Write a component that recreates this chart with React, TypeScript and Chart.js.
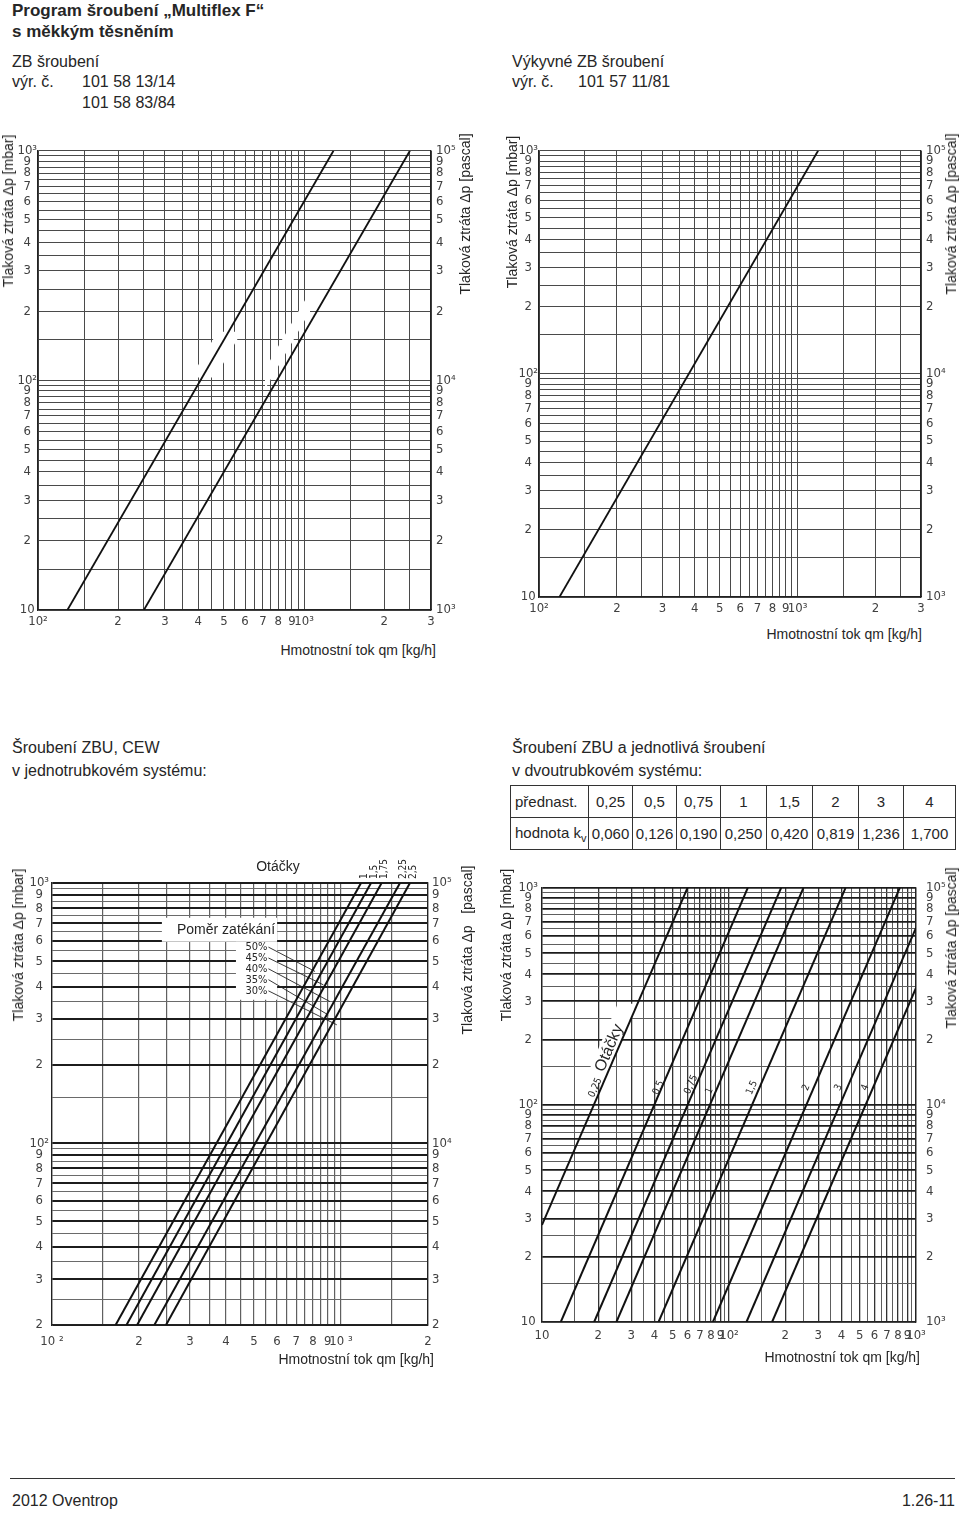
import React, { useEffect, useRef } from "react";
import { Chart, registerables } from "chart.js";

Chart.register(...registerables);

const SANS = "'Liberation Sans Narrow', 'Liberation Sans', Arial, sans-serif";
const TICK = "'DejaVu Sans Condensed', 'DejaVu Sans', sans-serif";
const TEXT = "#262626";

// ---------------- tick labels ----------------
const dropTicks10 = [10, 20, 30, 40, 50, 60, 70, 80, 90, 100, 200, 300, 400, 500, 600, 700, 800, 900, 1000];
const dropLabels10 = ["10", "2", "3", "4", "5", "6", "7", "8", "9", "10²", "2", "3", "4", "5", "6", "7", "8", "9", "10³"];
const pascalTicks1k = [1000, 2000, 3000, 4000, 5000, 6000, 7000, 8000, 9000, 10000, 20000, 30000, 40000, 50000, 60000, 70000, 80000, 90000, 100000];
const pascalLabels1k = ["10³", "2", "3", "4", "5", "6", "7", "8", "9", "10⁴", "2", "3", "4", "5", "6", "7", "8", "9", "10⁵"];
const flowTicksTop = [100, 200, 300, 400, 500, 600, 700, 800, 900, 1000, 2000, 3000];
const flowLabelsTop = ["10²", "2", "3", "4", "5", "6", "7", "8", "9", "10³", "2", "3"];
const dropTicks20 = [20, 30, 40, 50, 60, 70, 80, 90, 100, 200, 300, 400, 500, 600, 700, 800, 900, 1000];
const dropLabels20 = ["2", "3", "4", "5", "6", "7", "8", "9", "10²", "2", "3", "4", "5", "6", "7", "8", "9", "10³"];
const pascalTicks2k = [2000, 3000, 4000, 5000, 6000, 7000, 8000, 9000, 10000, 20000, 30000, 40000, 50000, 60000, 70000, 80000, 90000, 100000];
const pascalLabels2k = ["2", "3", "4", "5", "6", "7", "8", "9", "10⁴", "2", "3", "4", "5", "6", "7", "8", "9", "10⁵"];
const flowTicksCew = [100, 200, 300, 400, 500, 600, 700, 800, 900, 1000, 2000];
const flowLabelsCew = ["10 ²", "2", "3", "4", "5", "6", "7", "8", "9", "10 ³", "2"];
const flowTicksTwo = [10, 20, 30, 40, 50, 60, 70, 80, 90, 100, 200, 300, 400, 500, 600, 700, 800, 900, 1000];
const flowLabelsTwo = ["10", "2", "3", "4", "5", "6", "7", "8", "9", "10²", "2", "3", "4", "5", "6", "7", "8", "9", "10³"];
const gridSteps = [1, 1.5, 2, 2.5, 3, 3.5, 4, 4.5, 5, 5.5, 6, 6.5, 7, 7.5, 8, 8.5, 9, 9.5];

// ---------------- chart 1: ZB šroubení ----------------
const zbFlowStart = [129, 250];
const zbDropStart = [10, 10];
const zbFlowEnd = [1290, 2500];
const zbDropEnd = [1000, 1000];
const zbBandAFlow = [473, 583, 463, 376];
const zbBandADrop = [163, 163, 103, 103];
const zbBandBFlow = [713, 1053, 1053, 713];
const zbBandBDrop = [111.8, 244, 200, 91.6];

// ---------------- chart 2: Výkyvné ZB šroubení ----------------
const vzbFlowStart = [120];
const vzbDropStart = [10];
const vzbFlowEnd = [1200];
const vzbDropEnd = [1000];

// ---------------- chart 3: ZBU, CEW (one-pipe) ----------------
const cewTurns = ["1", "1,5", "1,75", "2,25", "2,5"];
const cewFlowStart = [166, 181, 197, 226, 248];
const cewDropStart = [20, 20, 20, 20, 20];
const cewFlowEnd = [1173, 1270, 1382, 1600, 1732];
const cewDropEnd = [1000, 1000, 1000, 1000, 1000];
const leakRatios = ["50%", "45%", "40%", "35%", "30%"];
const leakLeaderStartFlow = [561, 561, 561, 561, 561];
const leakLeaderStartDrop = [567, 515, 468, 425, 385];
const leakLeaderEndFlow = [813, 869, 916, 904, 967];
const leakLeaderEndDrop = [457, 406, 350, 311, 285];
const pomerTextFlow = 400;
const pomerTextDrop = 661;
const pomerBoxFlow = [240, 601];
const pomerBoxDrop = [735, 595];
const ratioBoxFlow = [433, 601];
const ratioBoxDrop = [595, 356];

// ---------------- chart 4: ZBU two-pipe ----------------
const presetTurns = ["0,25", "0,5", "0,75", "1", "1,5", "2", "3", "4"];
const kvTexts = ["0,060", "0,126", "0,190", "0,250", "0,420", "0,819", "1,236", "1,700"];
const twoFlowStart = [10, 12.6, 19, 25, 42, 82, 124, 170];
const twoDropStart = [28, 10, 10, 10, 10, 10, 10, 10];
const twoFlowEnd = [60, 126, 190, 250, 420, 819, 1000, 1000];
const twoDropEnd = [1000, 1000, 1000, 1000, 1000, 1000, 654, 346];
const presetLabelFlow = [19.3, 42, 62.7, 78.7, 132.7, 259, 385, 535];
const presetLabelDrop = [120, 120, 124, 116, 120, 120, 120, 120];
const otackyFlow = 22.9;
const otackyDrop = 182.6;
const otackyBandFlow = [25.4, 32.5, 21.35, 16.7];
const otackyBandDrop = [292.6, 292.6, 126.6, 126.6];

// ---------------- helpers ----------------
type GridStyle = { majorColor: string; majorWidth: number; minorColor: string; minorWidth: number };

function gridValues(min: number, max: number): number[] {
  const out: number[] = [];
  for (let e = 0; e <= 5; e++) {
    const d = Math.pow(10, e);
    for (const s of gridSteps) {
      const v = Math.round(s * d * 1000) / 1000;
      if (v >= min * (1 - 1e-9) && v <= max * (1 + 1e-9)) out.push(v);
    }
  }
  return out;
}

function isMajor(v: number) {
  const e = Math.floor(Math.log10(v) + 1e-9);
  const s = v / Math.pow(10, e);
  return Math.abs(s - Math.round(s)) < 1e-6;
}

function labelLookup(values: number[], labels: string[]) {
  return (v: number) => {
    const i = values.findIndex((t) => Math.abs(t - v) <= 1e-6 * t);
    return i >= 0 ? labels[i] : "";
  };
}

type AxisOpts = {
  position: "bottom" | "left" | "right";
  min: number;
  max: number;
  size: number;
  pad: number;
  tickValues: number[];
  tickLabels: string[];
  grid?: GridStyle;
};

function logAxis(o: AxisOpts): any {
  const all = o.grid ? gridValues(o.min, o.max) : o.tickValues;
  const lab = labelLookup(o.tickValues, o.tickLabels);
  const g = o.grid;
  return {
    type: "logarithmic",
    position: o.position,
    min: o.min,
    max: o.max,
    afterBuildTicks: (s: any) => {
      s.ticks = all.map((v) => ({ value: v }));
    },
    afterFit: (s: any) => {
      if (o.position === "bottom") s.height = o.size;
      else s.width = o.size;
    },
    ticks: {
      autoSkip: false,
      maxRotation: 0,
      minRotation: 0,
      padding: o.pad,
      crossAlign: o.position === "left" ? "center" : "near",
      color: "#404040",
      font: { family: TICK, size: 13 },
      callback: (v: any) => lab(Number(v)),
    },
    grid: g
      ? {
          display: true,
          drawTicks: false,
          color: (c: any) => (isMajor(c.tick ? c.tick.value : 1) ? g.majorColor : g.minorColor),
          lineWidth: (c: any) => (isMajor(c.tick ? c.tick.value : 1) ? g.majorWidth : g.minorWidth),
        }
      : { display: false, drawTicks: false },
    border: { display: true, color: "#222", width: 1.3 },
  };
}

function segments(q0: number[], p0: number[], q1: number[], p1: number[], width: number, color = "#111") {
  return q0.map((q, i) => ({
    data: [
      { x: q, y: p0[i] },
      { x: q1[i], y: p1[i] },
    ],
    xAxisID: "x",
    yAxisID: "y",
    showLine: true,
    borderColor: color,
    borderWidth: width,
    pointRadius: 0,
    fill: false,
  }));
}

const sx = (c: any, q: number) => c.scales.x.getPixelForValue(q);
const sy = (c: any, p: number) => c.scales.y.getPixelForValue(p);

function whitePoly(c: any, qs: number[], ps: number[]) {
  const ctx = c.ctx;
  ctx.save();
  ctx.fillStyle = "#fff";
  ctx.beginPath();
  qs.forEach((q, i) => {
    const x = sx(c, q);
    const y = sy(c, ps[i]);
    if (i === 0) ctx.moveTo(x, y);
    else ctx.lineTo(x, y);
  });
  ctx.closePath();
  ctx.fill();
  ctx.restore();
}

function whiteRect(c: any, qs: number[], ps: number[]) {
  whitePoly(c, [qs[0], qs[1], qs[1], qs[0]], [ps[0], ps[0], ps[1], ps[1]]);
}

function drawText(
  c: any,
  text: string,
  x: number,
  y: number,
  font: string,
  align: CanvasTextAlign = "center",
  angle = 0,
  color = TEXT
) {
  const ctx = c.ctx;
  ctx.save();
  ctx.translate(x, y);
  ctx.rotate(angle);
  ctx.font = font;
  ctx.fillStyle = color;
  ctx.textAlign = align;
  ctx.textBaseline = "middle";
  ctx.fillText(text, 0, 0);
  ctx.restore();
}

type Spec = {
  left: number;
  top: number;
  width: number;
  height: number;
  padTop: number;
  x: AxisOpts;
  y: AxisOpts;
  y2: AxisOpts;
  datasets: any[];
  before?: (c: any) => void;
  after?: (c: any) => void;
};

function LogChart({ spec }: { spec: Spec }) {
  const ref = useRef<HTMLCanvasElement | null>(null);
  useEffect(() => {
    if (!ref.current) return;
    const chart = new Chart(ref.current, {
      type: "scatter",
      data: { datasets: spec.datasets },
      options: {
        animation: false,
        responsive: true,
        maintainAspectRatio: false,
        events: [],
        layout: { padding: { top: spec.padTop, left: 0, right: 0, bottom: 0 } },
        plugins: { legend: { display: false }, tooltip: { enabled: false } },
        scales: { x: logAxis(spec.x), y: logAxis(spec.y), y2: logAxis(spec.y2) },
      } as any,
      plugins: [
        {
          id: "overlay",
          beforeDatasetsDraw: (c: any) => {
            if (spec.before) spec.before(c);
          },
          afterDatasetsDraw: (c: any) => {
            if (spec.after) spec.after(c);
          },
        },
      ],
    } as any);
    return () => chart.destroy();
  }, []);
  return (
    <div style={{ position: "absolute", left: spec.left, top: spec.top, width: spec.width, height: spec.height }}>
      <canvas ref={ref} />
    </div>
  );
}

const plainGrid: GridStyle = { majorColor: "#4a4a4a", majorWidth: 1, minorColor: "#4a4a4a", minorWidth: 1 };
const cewXGrid: GridStyle = { majorColor: "#606060", majorWidth: 1.2, minorColor: "#606060", minorWidth: 1.2 };
const cewYGrid: GridStyle = { majorColor: "#1c1c1c", majorWidth: 2, minorColor: "#6a6a6a", minorWidth: 1 };
const twoXGrid: GridStyle = { majorColor: "#333", majorWidth: 1.3, minorColor: "#5e5e5e", minorWidth: 1 };
const twoYGrid: GridStyle = { majorColor: "#1c1c1c", majorWidth: 1.8, minorColor: "#5e5e5e", minorWidth: 1 };

const specZB: Spec = {
  left: 0,
  top: 138,
  width: 470,
  height: 500,
  padTop: 10,
  x: { position: "bottom", min: 100, max: 3000, size: 28, pad: 4, tickValues: flowTicksTop, tickLabels: flowLabelsTop, grid: plainGrid },
  y: { position: "left", min: 10, max: 1000, size: 38, pad: 1, tickValues: dropTicks10, tickLabels: dropLabels10, grid: plainGrid },
  y2: { position: "right", min: 1000, max: 100000, size: 39, pad: 5, tickValues: pascalTicks1k, tickLabels: pascalLabels1k },
  datasets: segments(zbFlowStart, zbDropStart, zbFlowEnd, zbDropEnd, 1.8),
  before: (c) => {
    whitePoly(c, zbBandAFlow, zbBandADrop);
    whitePoly(c, zbBandBFlow, zbBandBDrop);
  },
};

const specVZB: Spec = {
  left: 500,
  top: 138,
  width: 460,
  height: 487,
  padTop: 10,
  x: { position: "bottom", min: 100, max: 3000, size: 28, pad: 4, tickValues: flowTicksTop, tickLabels: flowLabelsTop, grid: plainGrid },
  y: { position: "left", min: 10, max: 1000, size: 39, pad: 1, tickValues: dropTicks10, tickLabels: dropLabels10, grid: plainGrid },
  y2: { position: "right", min: 1000, max: 100000, size: 39, pad: 5, tickValues: pascalTicks1k, tickLabels: pascalLabels1k },
  datasets: segments(vzbFlowStart, vzbDropStart, vzbFlowEnd, vzbDropEnd, 1.8),
};

const specCEW: Spec = {
  left: 0,
  top: 840,
  width: 470,
  height: 513,
  padTop: 43,
  x: { position: "bottom", min: 100, max: 2000, size: 28, pad: 9, tickValues: flowTicksCew, tickLabels: flowLabelsCew, grid: cewXGrid },
  y: { position: "left", min: 20, max: 1000, size: 52, pad: 3, tickValues: dropTicks20, tickLabels: dropLabels20, grid: cewYGrid },
  y2: { position: "right", min: 2000, max: 100000, size: 42, pad: 4, tickValues: pascalTicks2k, tickLabels: pascalLabels2k },
  datasets: [
    ...segments(cewFlowStart, cewDropStart, cewFlowEnd, cewDropEnd, 2),
    ...segments(leakLeaderStartFlow, leakLeaderStartDrop, leakLeaderEndFlow, leakLeaderEndDrop, 0.9, "#222"),
  ],
  before: (c) => {
    whiteRect(c, pomerBoxFlow, pomerBoxDrop);
    whiteRect(c, ratioBoxFlow, ratioBoxDrop);
  },
  after: (c) => {
    drawText(c, "Poměr zatékání", sx(c, pomerTextFlow), sy(c, pomerTextDrop), `14px ${SANS}`);
    leakRatios.forEach((t, i) => {
      drawText(c, t, sx(c, leakLeaderStartFlow[i]) - 1, sy(c, leakLeaderStartDrop[i]), `11px ${TICK}`, "right");
    });
    const top = c.chartArea.top;
    cewTurns.forEach((t, i) => {
      drawText(c, t, sx(c, cewFlowEnd[i]) + 3, top - 4, `10px ${TICK}`, "left", -Math.PI / 2);
    });
  },
};

const specTwo: Spec = {
  left: 500,
  top: 870,
  width: 460,
  height: 480,
  padTop: 13,
  x: { position: "bottom", min: 10, max: 1000, size: 28, pad: 6, tickValues: flowTicksTwo, tickLabels: flowLabelsTwo, grid: twoXGrid },
  y: { position: "left", min: 10, max: 1000, size: 42, pad: 4, tickValues: dropTicks10, tickLabels: dropLabels10, grid: twoYGrid },
  y2: { position: "right", min: 1000, max: 100000, size: 44, pad: 10, tickValues: pascalTicks1k, tickLabels: pascalLabels1k },
  datasets: segments(twoFlowStart, twoDropStart, twoFlowEnd, twoDropEnd, 2),
  before: (c) => {
    whitePoly(c, otackyBandFlow, otackyBandDrop);
  },
  after: (c) => {
    const angleOf = (i: number) =>
      Math.atan2(sy(c, twoDropEnd[i]) - sy(c, twoDropStart[i]), sx(c, twoFlowEnd[i]) - sx(c, twoFlowStart[i]));
    presetTurns.forEach((t, i) => {
      drawText(c, t, sx(c, presetLabelFlow[i]), sy(c, presetLabelDrop[i]), `10px ${TICK}`, "center", angleOf(i));
    });
    drawText(c, "Otáčky", sx(c, otackyFlow), sy(c, otackyDrop), `16px ${SANS}`, "center", angleOf(0));
  },
};

// ---------------- page ----------------
const txt = (x: number, y: number, size: number, extra: React.CSSProperties = {}): React.CSSProperties => ({
  position: "absolute",
  left: x,
  top: y,
  transform: "translateY(-50%)",
  whiteSpace: "nowrap",
  lineHeight: 1,
  fontFamily: SANS,
  fontSize: size,
  color: TEXT,
  ...extra,
});
const txtRight = (x: number, y: number, size: number): React.CSSProperties => ({
  ...txt(x, y, size),
  transform: "translate(-100%,-50%)",
});
const txtVert = (x: number, y: number, size: number): React.CSSProperties => ({
  ...txt(x, y, size),
  transform: "translate(-50%,-50%) rotate(-90deg)",
});

const tableCols = [78, 44, 44, 44, 46, 46, 46, 45, 52];

export default function App() {
  const cell: React.CSSProperties = {
    border: "1px solid #333",
    textAlign: "center",
    padding: 0,
    height: 31,
    fontFamily: SANS,
    fontSize: 15,
    color: TEXT,
    whiteSpace: "nowrap",
  };
  return (
    <div style={{ position: "absolute", left: 0, top: 0, width: 960, height: 1513, background: "#fff", overflow: "hidden" }}>
      <div style={txt(12, 10, 17, { fontWeight: 700 })}>Program šroubení „Multiflex F“</div>
      <div style={txt(12, 31, 17, { fontWeight: 700 })}>s měkkým těsněním</div>
      <div style={txt(12, 62, 16)}>ZB šroubení</div>
      <div style={txt(12, 82, 16)}>výr. č.</div>
      <div style={txt(82, 82, 16)}>101 58 13/14</div>
      <div style={txt(82, 103, 16)}>101 58 83/84</div>
      <div style={txt(512, 62, 16)}>Výkyvné ZB šroubení</div>
      <div style={txt(512, 82, 16)}>výr. č.</div>
      <div style={txt(578, 82, 16)}>101 57 11/81</div>

      <LogChart spec={specZB} />
      <LogChart spec={specVZB} />
      <div style={txtVert(8, 211, 14)}>Tlaková ztráta Δp [mbar]</div>
      <div style={txtVert(465, 214, 14)}>Tlaková ztráta Δp [pascal]</div>
      <div style={txtVert(512, 212, 14)}>Tlaková ztráta Δp [mbar]</div>
      <div style={txtVert(951, 214, 14)}>Tlaková ztráta Δp [pascal]</div>
      <div style={txtRight(436, 650, 14)}>Hmotnostní tok qm [kg/h]</div>
      <div style={txtRight(922, 634, 14)}>Hmotnostní tok qm [kg/h]</div>

      <div style={txt(12, 748, 16)}>Šroubení ZBU, CEW</div>
      <div style={txt(12, 771, 16)}>v jednotrubkovém systému:</div>
      <div style={txt(512, 748, 16)}>Šroubení ZBU a jednotlivá šroubení</div>
      <div style={txt(512, 771, 16)}>v dvoutrubkovém systému:</div>
      <table
        style={{
          position: "absolute",
          left: 510,
          top: 785,
          width: 445,
          borderCollapse: "collapse",
          tableLayout: "fixed",
        }}
      >
        <colgroup>
          {tableCols.map((w, i) => (
            <col key={i} style={{ width: w }} />
          ))}
        </colgroup>
        <tbody>
          <tr>
            <td style={{ ...cell, textAlign: "left", paddingLeft: 4 }}>přednast.</td>
            {presetTurns.map((t) => (
              <td key={t} style={cell}>
                {t}
              </td>
            ))}
          </tr>
          <tr>
            <td style={{ ...cell, textAlign: "left", paddingLeft: 4 }}>
              hodnota k<sub style={{ fontSize: 11 }}>v</sub>
            </td>
            {kvTexts.map((t) => (
              <td key={t} style={cell}>
                {t}
              </td>
            ))}
          </tr>
        </tbody>
      </table>

      <LogChart spec={specCEW} />
      <LogChart spec={specTwo} />
      <div style={txt(278, 866, 14, { transform: "translate(-50%,-50%)" })}>Otáčky</div>
      <div style={txtVert(18, 945, 14)}>Tlaková ztráta Δp [mbar]</div>
      <div style={txtVert(467, 950, 14)}>Tlaková ztráta Δp&nbsp;&nbsp;&nbsp;[pascal]</div>
      <div style={txtVert(506, 945, 14)}>Tlaková ztráta Δp [mbar]</div>
      <div style={txtVert(951, 948, 14)}>Tlaková ztráta Δp [pascal]</div>
      <div style={txtRight(434, 1359, 14)}>Hmotnostní tok qm [kg/h]</div>
      <div style={txtRight(920, 1357, 14)}>Hmotnostní tok qm [kg/h]</div>

      <div style={{ position: "absolute", left: 10, top: 1478, width: 945, height: 0, borderTop: "1px solid #333" }} />
      <div style={txt(12, 1501, 16)}>2012 Oventrop</div>
      <div style={txtRight(955, 1501, 16)}>1.26-11</div>
    </div>
  );
}
